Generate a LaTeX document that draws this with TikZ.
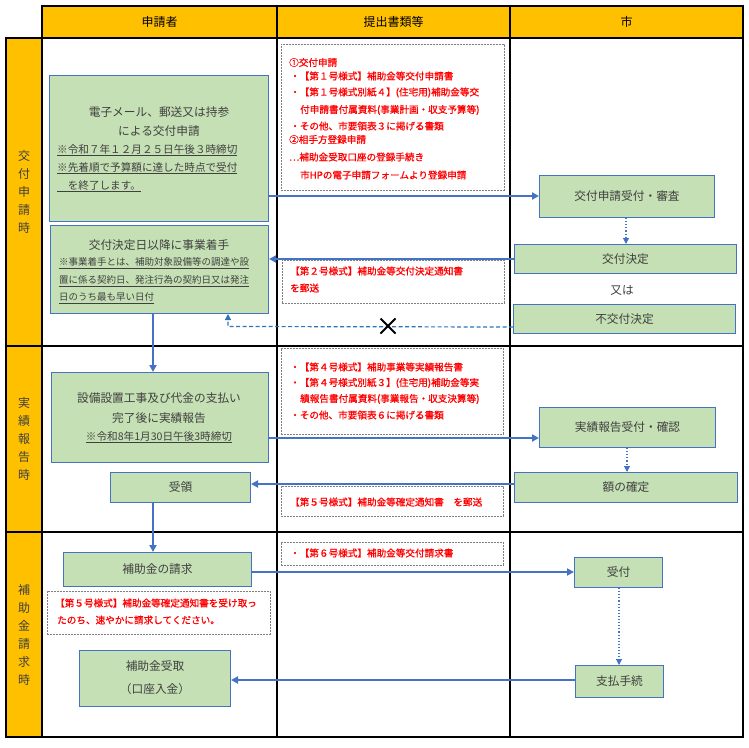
\documentclass[tikz,border=0pt]{standalone}
\usepackage{fontspec}
\setmainfont{Noto Sans CJK JP}
\newfontfamily\redfont{Noto Sans CJK JP}[FakeBold=0.8]
\usetikzlibrary{arrows.meta}
\definecolor{hdr}{HTML}{FFC000}
\definecolor{grn}{HTML}{C5E0B4}
\definecolor{blu}{HTML}{4472C4}
\definecolor{dblu}{HTML}{2E75B6}
\definecolor{txg}{HTML}{404040}
\definecolor{dgr}{HTML}{7F7F7F}
\tikzset{
  gbox/.style={draw=blu, fill=grn, line width=1pt, inner sep=0pt},
  dbox/.style={draw=dgr, fill=white, line width=0.9pt, dash pattern=on 2pt off 1pt, inner sep=0pt},
  arr/.style={draw=blu, line width=1.8pt, -{Triangle[length=7pt,width=7pt]}},
  dotarr/.style={draw=blu, line width=1.1pt, dotted, -{Triangle[length=6pt,width=6pt]}},
  dasharr/.style={draw=dblu, line width=1.2pt, dash pattern=on 4pt off 2.5pt, -{Triangle[length=6pt,width=6pt]}},
  mtxt/.style={text=txg, inner sep=0pt, font=\fontsize{11.7}{13}\selectfont},
  ntxt/.style={text=txg, inner sep=0pt, anchor=west, font=\fontsize{10.6}{12}\selectfont},
  stxt/.style={text=txg, inner sep=0pt, anchor=west, font=\fontsize{9.5}{11}\selectfont},
  rtxt/.style={text=red, inner sep=0pt, anchor=west, font=\redfont\fontsize{9.6}{11}\selectfont},
  htxt/.style={text=black, inner sep=0pt, font=\fontsize{12}{14}\selectfont},
  vtxt/.style={text=txg, inner sep=0pt, align=center, font=\fontsize{12}{18}\selectfont},
  grid/.style={draw=black, line width=2pt},
}
\begin{document}
\begin{tikzpicture}[x=1pt,y=-1pt]
\useasboundingbox (0,0) rectangle (749,747);
% table
\fill[hdr] (42,6) rectangle (743,38);
\fill[hdr] (6,38) rectangle (42,737);
\draw[grid] (42,6) rectangle (743,38);
\draw[grid] (6,38) rectangle (743,737);
\draw[grid] (42,6) -- (42,737);
\draw[grid] (277,6) -- (277,737);
\draw[grid] (510,6) -- (510,737);
\draw[grid] (6,346) -- (743,346);
\draw[grid] (6,532) -- (743,532);
% headers
\node[htxt] (h1) at (159.5,22) {申請者};
\node[htxt] (h2) at (393.5,22) {提出書類等};
\node[htxt] (h3) at (626.5,22) {市};
\node[vtxt] (v1) at (24,192) {交\\付\\申\\請\\時};
\node[vtxt] (v2) at (24,439) {実\\績\\報\\告\\時};
\node[vtxt] (v3) at (24,635) {補\\助\\金\\請\\求\\時};

% applicant boxes
\node[gbox, anchor=north west, minimum width=219pt, minimum height=146pt] (B1) at (49,75) {};
\node[gbox, anchor=north west, minimum width=218pt, minimum height=88pt] (B2) at (50,225) {};
\node[gbox, anchor=north west, minimum width=217pt, minimum height=90pt] (B3) at (51,372) {};
\node[gbox, anchor=north west, minimum width=140pt, minimum height=30pt] (B4) at (110,472) {};
\node[gbox, anchor=north west, minimum width=188pt, minimum height=34pt] (B5) at (63,552) {};
\node[dbox, anchor=north west, minimum width=223pt, minimum height=43pt] (N1) at (47,591) {};
\node[gbox, anchor=north west, minimum width=151pt, minimum height=56pt] (B6) at (79,650) {};

\node[mtxt] (t1a) at (159,112) {電子メール、郵送又は持参};
\node[mtxt] (t1b) at (159,131) {による交付申請};
\node[ntxt] (t1c) at (57,150) {\underline{※令和７年１２月２５日午後３時締切}};
\node[ntxt] (t1d) at (57,168) {\underline{※先着順で予算額に達した時点で受付}};
\node[ntxt] (t1e) at (57,186) {\underline{　を終了します。}};

\node[mtxt] (t2a) at (159,245) {交付決定日以降に事業着手};
\node[stxt] (t2b) at (59,263) {\underline{※事業着手とは、補助対象設備等の調達や設}};
\node[stxt] (t2c) at (59,281) {\underline{置に係る契約日、発注行為の契約日又は発注}};
\node[stxt] (t2d) at (59,298) {\underline{日のうち最も早い日付}};

\node[mtxt] (t3a) at (159,398) {設備設置工事及び代金の支払い};
\node[mtxt] (t3b) at (159,418) {完了後に実績報告};
\node[ntxt, anchor=center] (t3c) at (159,437) {\underline{※令和8年1月30日午後3時締切}};

\node[mtxt] (t4) at (B4.center) {受領};
\node[mtxt] (t5) at (B5.center) {補助金の請求};
\node[rtxt] (n1a) at (55,603) {【第５号様式】補助金等確定通知書を受け取っ};
\node[rtxt] (n1b) at (57,620) {たのち、速やかに請求してください。};
\node[mtxt] (t6a) at (155,666) {補助金受取};
\node[mtxt] (t6b) at (155,689) {（口座入金）};

% middle column
\node[dbox, anchor=north west, minimum width=223pt, minimum height=146pt] (M1) at (281,44) {};
\node[dbox, anchor=north west, minimum width=222pt, minimum height=43pt] (M2) at (282,260) {};
\node[dbox, anchor=north west, minimum width=222pt, minimum height=86pt] (M3) at (281,348) {};
\node[dbox, anchor=north west, minimum width=222pt, minimum height=30pt] (M4) at (281,486) {};
\node[dbox, anchor=north west, minimum width=222pt, minimum height=23pt] (M5) at (281,542) {};

\node[rtxt] (m1a) at (289,62.5) {①交付申請};
\node[rtxt] (m1b) at (290,76) {・【第１号様式】補助金等交付申請書};
\node[rtxt] (m1c) at (290,92.5) {・【第１号様式別紙４】(住宅用)補助金等交};
\node[rtxt] (m1d) at (300,110) {付申請書付属資料(事業計画・収支予算等)};
\node[rtxt] (m1e) at (290,126) {・その他、市要領表３に掲げる書類};
\node[rtxt] (m1f) at (289,139.5) {②相手方登録申請};
\node[rtxt] (m1g) at (289,157) {⋯補助金受取口座の登録手続き};
\node[rtxt] (m1h) at (300,175) {市HPの電子申請フォームより登録申請};

\node[rtxt] (m2a) at (290,271) {【第２号様式】補助金等交付決定通知書};
\node[rtxt] (m2b) at (290,288) {を郵送};

\node[rtxt] (m3a) at (290,367) {・【第４号様式】補助事業等実績報告書};
\node[rtxt] (m3b) at (290,383) {・【第４号様式別紙３】(住宅用)補助金等実};
\node[rtxt] (m3c) at (300,399) {績報告書付属資料(事業報告・収支決算等)};
\node[rtxt] (m3d) at (290,415) {・その他、市要領表６に掲げる書類};

\node[rtxt] (m4a) at (290,502) {【第５号様式】補助金等確定通知書　を郵送};
\node[rtxt] (m5a) at (290,553) {・【第６号様式】補助金等交付請求書};

% city column
\node[gbox, anchor=north west, minimum width=175pt, minimum height=42pt] (C1) at (539,175) {};
\node[gbox, anchor=north west, minimum width=222pt, minimum height=29pt] (C2) at (514,244) {};
\node[gbox, anchor=north west, minimum width=222pt, minimum height=29pt] (C3) at (513,304) {};
\node[gbox, anchor=north west, minimum width=176pt, minimum height=40pt] (C4) at (539,407) {};
\node[gbox, anchor=north west, minimum width=223pt, minimum height=30pt] (C5) at (514,472) {};
\node[gbox, anchor=north west, minimum width=88pt, minimum height=30pt] (C6) at (574,557) {};
\node[gbox, anchor=north west, minimum width=88pt, minimum height=32pt] (C7) at (575,665) {};

\node[mtxt] (c1t) at (C1.center) {交付申請受付・審査};
\node[mtxt] (c2t) at (C2.center) {交付決定};
\node[mtxt] (c0t) at (622,290) {又は};
\node[mtxt] (c3t) at (C3.center) {不交付決定};
\node[mtxt] (c4t) at (C4.center) {実績報告受付・確認};
\node[mtxt] (c5t) at (C5.center) {額の確定};
\node[mtxt] (c6t) at (C6.center) {受付};
\node[mtxt] (c7t) at (C7.center) {支払手続};

% connectors
\coordinate (xa) at (153,0);
\coordinate (ya) at (0,196);
\coordinate (yb) at (0,438);
\coordinate (yc) at (0,484);
\coordinate (yd) at (0,572);
\coordinate (ye) at (0,680);
\coordinate (xc1) at (626,0);
\coordinate (xc2) at (627,0);
\coordinate (xc3) at (619,0);
\coordinate (kk) at (228,326.5);

\draw[arr] (B1.east |- ya) -- (C1.west |- ya);
\draw[arr] (C2.west) -- (B2.east |- C2.west);
\draw[dasharr] ([yshift=-8pt]C3.west) -- (kk) -- (kk |- B2.south);
\draw[line width=2pt] (380.5,318.5) -- (395.5,333.5);
\draw[line width=2pt] (380.5,333.5) -- (395.5,318.5);
\draw[arr] (B2.south -| xa) -- (B3.north -| xa);
\draw[arr] (B3.east |- yb) -- (C4.west |- yb);
\draw[arr] (C5.west |- yc) -- (B4.east |- yc);
\draw[arr] (B4.south -| xa) -- (B5.north -| xa);
\draw[arr] (B5.east |- yd) -- (C6.west |- yd);
\draw[arr] (C7.west |- ye) -- (B6.east |- ye);
\draw[dotarr] (C1.south -| xc1) -- (C2.north -| xc1);
\draw[dotarr] (C4.south -| xc2) -- (C5.north -| xc2);
\draw[dotarr] (C6.south -| xc3) -- (C7.north -| xc3);
\end{tikzpicture}
\end{document}
